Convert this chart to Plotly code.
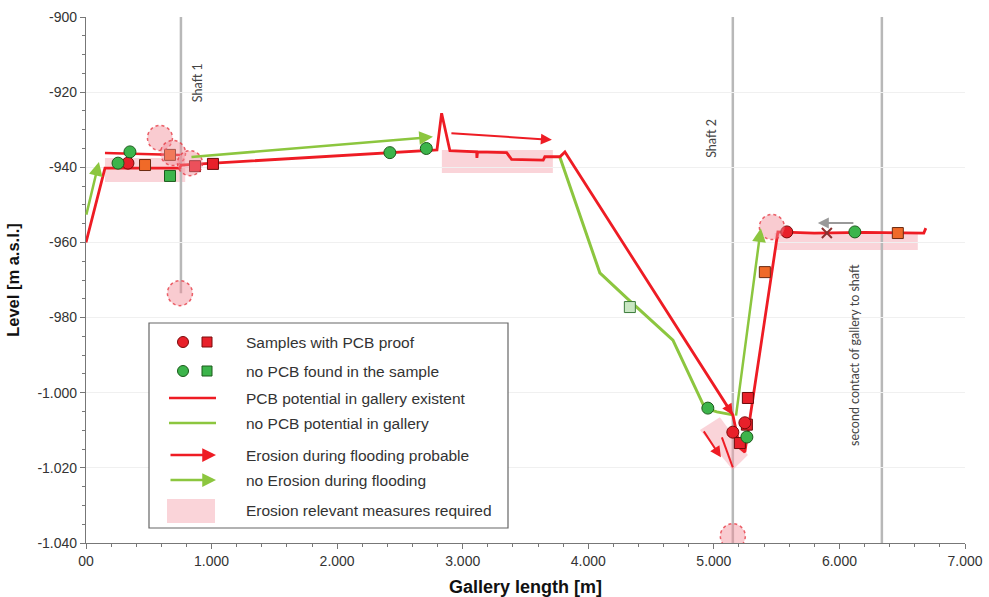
import plotly.graph_objects as go

# ---------------- data ----------------
x_ticks = [0, 1000, 2000, 3000, 4000, 5000, 6000, 7000]
x_ticklabels = ["00", "1.000", "2.000", "3.000", "4.000", "5.000", "6.000", "7.000"]
y_ticks = [-900, -920, -940, -960, -980, -1000, -1020, -1040]
y_ticklabels = ["-900", "-920", "-940", "-960", "-980", "-1.000", "-1.020", "-1.040"]

# PCB potential line (red)
red_x = [0, 151, 748, 756, 2795, 2832, 2898, 3111, 3113, 3118, 3350, 3389, 3641, 3654, 3774, 3814,
         5151, 5207, 5247, 5510, 5800, 6200, 6672, 6688]
red_y = [-960, -940.2, -940.2, -939.4, -935.4, -925.6, -935.6, -935.9, -937.5, -935.9, -936.1, -937.9,
         -938.1, -937.2, -937.2, -935.9, -1005.9, -1014.7, -1015.8, -957.2, -957.5, -957.3, -957.5, -956.2]
red_short_x = [151, 748]
red_short_y = [-936.2, -936.7]
red_extra_x = [5064, 5151]
red_extra_y = [-1011.9, -1019.9]

# no PCB potential line (green)
green_x = [3774, 4092, 4307, 4674, 4928, 5024, 5151]
green_y = [-937.3, -968.1, -974.8, -986.0, -1004.1, -1005.1, -1005.9]

# arrows (tail x, tail y, head x, head y)
green_arrows = [(0, -953, 103, -938.6), (828, -937.3, 2763, -931.9), (5175, -1006.5, 5374, -956.2)]
red_arrows = [(2898, -930.9, 3710, -932.7), (4912, -1009.9, 5056, -1017.2), (5090, -1002.7, 5151, -1005.9)]
gray_arrows = [(6123, -954.8, 5828, -954.8)]

# samples
red_circ_x = [334, 5151, 5247, 5581]
red_circ_y = [-938.9, -1010.5, -1008.0, -957.2]
red_sq_x = [868, 1011, 5271, 5263, 5207]
red_sq_y = [-939.7, -939.1, -1001.4, -1008.5, -1013.4]
orange_sq_x = [470, 669, 5406, 6465]
orange_sq_y = [-939.4, -936.7, -967.9, -957.5]
green_circ_x = [255, 350, 2420, 2710, 4952, 5263, 6123]
green_circ_y = [-938.9, -935.9, -936.1, -935.0, -1004.1, -1011.8, -957.2]
green_sq_x = [669]
green_sq_y = [-942.3]
light_sq_x = [4331]
light_sq_y = [-977.2]
cross_x = [5900]
cross_y = [-957.5]

# erosion relevant zones (x0, x1, y0, y1)
pink_rects = [(151, 790, -937.5, -943.9), (2834, 3718, -935.4, -941.5), (5485, 6624, -957.5, -962.0)]
pink_poly_x = [4889, 5048, 5271, 5151]
pink_poly_y = [-1009.9, -1006.5, -1016.6, -1020.6]
# dashed circles (x, y)
pink_circles = [(589, -932.2), (693, -936.2), (828, -938.9), (748, -973.5), (5462, -955.9), (5151, -1038.2)]

# shafts (x, y top, y bottom)
shafts = [(756, -900, -973.5), (5151, -900, -1040), (6338, -900, -1040)]
shaft_labels = [("Shaft 1", 884, -917.6, 12.5), ("Shaft 2", 4984, -932.2, 12.5),
                ("second contact of gallery to shaft", 6115, -990.0, 12.5)]

legend_rows = ["Samples with PCB proof", "no PCB found in the sample", "PCB potential in gallery existent",
               "no PCB potential in gallery", "Erosion during flooding probable", "no Erosion during flooding",
               "Erosion relevant measures required"]

# ---------------- style ----------------
RED = "#ee1c24"
GREEN = "#8cc63f"
DOT_GREEN = "#3cb44b"
ORANGE = "#f06a28"
PINK = "rgba(244,160,170,0.45)"
GRAY = "#b8b8b8"

fig = go.Figure()
shapes = []
annotations = []

for (x0, x1, y0, y1) in pink_rects:
    shapes.append(dict(type="rect", xref="x", yref="y", x0=x0, x1=x1, y0=y0, y1=y1,
                       fillcolor=PINK, line_width=0, layer="below"))
fig.add_trace(go.Scatter(x=pink_poly_x, y=pink_poly_y, fill="toself", fillcolor=PINK,
                         line=dict(width=0), mode="lines", hoverinfo="skip", showlegend=False))

for (sx, y0, y1) in shafts:
    shapes.append(dict(type="line", xref="x", yref="y", x0=sx, x1=sx, y0=y0, y1=y1,
                       line=dict(color=GRAY, width=2.5), layer="below"))

for (txt, tx, ty, fs) in shaft_labels:
    annotations.append(dict(x=tx, y=ty, xref="x", yref="y", text=txt, showarrow=False, textangle=-90,
                            font=dict(family="Lato", size=fs, color="#444")))

fig.add_trace(go.Scatter(x=green_x, y=green_y, mode="lines", line=dict(color=GREEN, width=3),
                         hoverinfo="skip", showlegend=False))
fig.add_trace(go.Scatter(x=red_short_x, y=red_short_y, mode="lines", line=dict(color=RED, width=2.5),
                         hoverinfo="skip", showlegend=False))
fig.add_trace(go.Scatter(x=red_extra_x, y=red_extra_y, mode="lines", line=dict(color=RED, width=2),
                         hoverinfo="skip", showlegend=False))
fig.add_trace(go.Scatter(x=red_x, y=red_y, mode="lines", line=dict(color=RED, width=2.8),
                         hoverinfo="skip", showlegend=False))

def add_arrows(arr, color, width):
    for (tx, ty, hx, hy) in arr:
        annotations.append(dict(x=hx, y=hy, ax=tx, ay=ty, xref="x", yref="y", axref="x", ayref="y",
                                text="", showarrow=True, arrowhead=2, arrowsize=1.1,
                                arrowwidth=width, arrowcolor=color))

add_arrows(green_arrows, GREEN, 2.5)
add_arrows(red_arrows, RED, 2)
add_arrows(gray_arrows, "#999999", 2)

for (cx, cy) in pink_circles:
    shapes.append(dict(type="circle", xref="x", yref="y", xsizemode="pixel", ysizemode="pixel",
                       xanchor=cx, yanchor=cy, x0=-12.5, x1=12.5, y0=-12.5, y1=12.5,
                       fillcolor="rgba(242,140,150,0.45)",
                       line=dict(color="rgba(230,60,70,0.8)", width=1.5, dash="dot"), layer="above"))

def add_markers(xs, ys, symbol, fill, edge, size):
    fig.add_trace(go.Scatter(x=xs, y=ys, mode="markers",
                             marker=dict(symbol=symbol, size=size, color=fill, line=dict(color=edge, width=1)),
                             hoverinfo="skip", showlegend=False))

add_markers(light_sq_x, light_sq_y, "square", "#c9e6c3", "#3a7a3a", 11)
add_markers(orange_sq_x, orange_sq_y, "square", ORANGE, "#6a2a10", 11)
add_markers(red_sq_x, red_sq_y, "square", "#e8202a", "#6a0a0a", 11)
add_markers(green_sq_x, green_sq_y, "square", DOT_GREEN, "#1a5a1a", 11)
add_markers(red_circ_x, red_circ_y, "circle", "#e8202a", "#7a0a0a", 12)
add_markers(green_circ_x, green_circ_y, "circle", DOT_GREEN, "#1a5a1a", 12)
add_markers(cross_x, cross_y, "x-thin", "#666", "#8a3030", 10)
fig.data[-1].marker.line.width = 2

# ---------------- manual legend (paper coords) ----------------
L, B, W, H = 86, 543, 879, 526
def px(xp):
    return (xp - L) / W
def py(yp):
    return (B - yp) / H

shapes.append(dict(type="rect", xref="paper", yref="paper", x0=px(149), x1=px(508), y0=py(528), y1=py(323),
                   fillcolor="white", line=dict(color="#666", width=1.2), layer="above"))
rows_y = [342, 371, 398, 423, 455, 480, 510]
for i, txt in enumerate(legend_rows):
    annotations.append(dict(x=px(244), y=py(rows_y[i]), xref="paper", yref="paper", text=txt,
                            showarrow=False, xanchor="left", yanchor="middle",
                            font=dict(family="Liberation Sans", size=15.5, color="#333")))
for i, (fc, ec) in enumerate([("#e8202a", "#7a0a0a"), (DOT_GREEN, "#1a5a1a")]):
    yy = rows_y[i]
    shapes.append(dict(type="circle", xref="paper", yref="paper", xsizemode="pixel", ysizemode="pixel",
                       xanchor=px(183), yanchor=py(yy), x0=-5.5, x1=5.5, y0=-5.5, y1=5.5,
                       fillcolor=fc, line=dict(color=ec, width=1), layer="above"))
    shapes.append(dict(type="rect", xref="paper", yref="paper", xsizemode="pixel", ysizemode="pixel",
                       xanchor=px(207), yanchor=py(yy), x0=-5, x1=5, y0=-5, y1=5,
                       fillcolor=fc, line=dict(color=ec, width=1), layer="above"))
for i, col in [(2, RED), (3, GREEN)]:
    shapes.append(dict(type="line", xref="paper", yref="paper", x0=px(169), x1=px(216),
                       y0=py(rows_y[i]), y1=py(rows_y[i]), line=dict(color=col, width=2.5), layer="above"))
for i, col in [(4, RED), (5, GREEN)]:
    annotations.append(dict(x=px(216), y=py(rows_y[i]), ax=-47, ay=0, xref="paper", yref="paper",
                            text="", showarrow=True, arrowhead=2, arrowsize=1.1,
                            arrowwidth=2.5, arrowcolor=col))
shapes.append(dict(type="rect", xref="paper", yref="paper", x0=px(167), x1=px(215), y0=py(523), y1=py(499),
                   fillcolor=PINK, line_width=0, layer="above"))

fig.update_layout(
    width=989, height=597,
    margin=dict(l=86, r=24, t=17, b=54),
    plot_bgcolor="white", paper_bgcolor="white",
    shapes=shapes, annotations=annotations,
    showlegend=False,
    xaxis=dict(range=[0, 7000], tickvals=x_ticks, ticktext=x_ticklabels, showgrid=False,
               showline=True, linecolor="#777", linewidth=1.2, ticks="outside", ticklen=5, tickcolor="#777",
               minor=dict(dtick=200, ticks="outside", ticklen=3, tickcolor="#777"),
               tickfont=dict(family="Liberation Sans", size=14, color="#333"),
               title=dict(text="<b>Gallery length [m]</b>", font=dict(family="Liberation Sans", size=18, color="#111"),
                          standoff=14),
               zeroline=False, automargin=False),
    yaxis=dict(range=[-1040, -900], tickvals=y_ticks, ticktext=y_ticklabels, showgrid=True, gridcolor="#f0f0f0",
               showline=True, linecolor="#777", linewidth=1.2, ticks="outside", ticklen=5, tickcolor="#777",
               minor=dict(dtick=5, ticks="outside", ticklen=3, tickcolor="#777", showgrid=False),
               tickfont=dict(family="Liberation Sans", size=14, color="#333"),
               title=dict(text="<b>Level [m a.s.l.]</b>", font=dict(family="Liberation Sans", size=16.5, color="#111"),
                          standoff=13),
               zeroline=False, automargin=False),
)

fig.write_html("out.html", config={"displayModeBar": False},
               post_script="document.body.style.margin='0';document.body.style.overflow='hidden';")
